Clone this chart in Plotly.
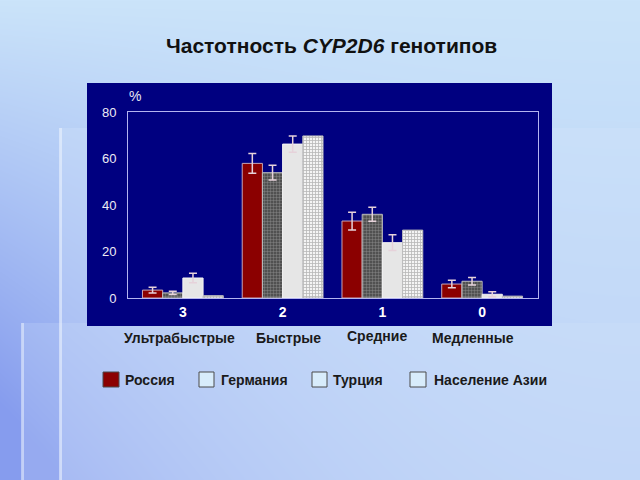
import base64
import struct
import zlib

import numpy as np
import plotly.graph_objects as go

# ---------------- data ----------------
genotypes = ["3", "2", "1", "0"]
phenotypes = ["Ультрабыстрые", "Быстрые", "Средние", "Медленные"]
series_names = ["Россия", "Германия", "Турция", "Население Азии"]

russia = [3.4, 57.9, 33.1, 6.0]
russia_err = [1.2, 4.2, 3.8, 1.6]
germany = [2.2, 53.9, 36.0, 7.2]
germany_err = [0.7, 3.2, 3.0, 1.6]
turkey = [8.6, 66.2, 23.8, 1.6]
turkey_err = [2.0, 3.5, 3.4, 1.1]
asia = [1.0, 69.7, 29.2, 0.8]

y_ticks = [0, 20, 40, 60, 80]

# ---------------- geometry helpers ----------------
W, H = 640, 480
ML, MR, MT, MB = 128, 102, 112, 182
PW, PH = W - ML - MR, H - MT - MB


def px(x):
    return (x - ML) / PW


def py(y):
    return (H - MB - y) / PH


# ---------------- background picture (slide template) ----------------
def background_uri():
    yy, xx = np.mgrid[0:H, 0:W].astype(float)
    yn, xn = yy / H, xx / W
    top = np.array([203, 228, 250], float)
    blue = np.array([134, 156, 238], float)
    w = np.clip(yn * 0.33 + ((1 - xn) ** 2.2) * yn * 0.85, 0, 1)[..., None]
    img = top * (1 - w) + blue * w
    light = np.array([214, 230, 251], float)
    regA = ((xx >= 60) & (yy >= 128))[..., None]
    img = np.where(regA, img * 0.72 + light * 0.28, img)
    regB = ((xx >= 22) & (yy >= 323))[..., None]
    img = np.where(regB, img * 0.8 + light * 0.2, img)
    white = np.array([240, 246, 255], float)
    lineA = ((xx >= 59) & (xx <= 61) & (yy >= 128))[..., None]
    img = np.where(lineA, img * 0.45 + white * 0.55, img)
    lineB = ((xx >= 21) & (xx <= 23) & (yy >= 323))[..., None]
    img = np.where(lineB, img * 0.5 + white * 0.5, img)
    img = np.clip(img, 0, 255).astype(np.int16)
    sub = img.copy()
    sub[:, 1:, :] = img[:, 1:, :] - img[:, :-1, :]
    sub = (sub % 256).astype(np.uint8).reshape(H, -1)
    raw = np.concatenate([np.ones((H, 1), np.uint8), sub], axis=1).tobytes()

    def chunk(t, d):
        return (struct.pack(">I", len(d)) + t + d
                + struct.pack(">I", zlib.crc32(t + d) & 0xFFFFFFFF))

    png = (b"\x89PNG\r\n\x1a\n"
           + chunk(b"IHDR", struct.pack(">IIBBBBB", W, H, 8, 2, 0, 0, 0))
           + chunk(b"IDAT", zlib.compress(raw, 9))
           + chunk(b"IEND", b""))
    return "data:image/png;base64," + base64.b64encode(png).decode()


FONT = "Liberation Sans, Arial, sans-serif"
ERR_COLOR = "#E6D2DA"

fig = go.Figure()

fig.add_trace(go.Bar(
    name=series_names[0], x=genotypes, y=russia,
    marker=dict(color="#8B0000", line=dict(color="#C9A6B4", width=1)),
    error_y=dict(type="data", array=russia_err, color=ERR_COLOR, thickness=1.5, width=4),
))
fig.add_trace(go.Bar(
    name=series_names[1], x=genotypes, y=germany,
    marker=dict(color="#4A4A4A", line=dict(color="#BDBDBD", width=1),
                pattern=dict(shape=".", fgcolor="#B0B0B0", bgcolor="#444444",
                             size=3, solidity=0.5)),
    error_y=dict(type="data", array=germany_err, color=ERR_COLOR, thickness=1.5, width=4),
))
fig.add_trace(go.Bar(
    name=series_names[2], x=genotypes, y=turkey,
    marker=dict(color="#E6E6E6", line=dict(color="#F4F4F4", width=1)),
    error_y=dict(type="data", array=turkey_err, color=ERR_COLOR, thickness=1.5, width=4),
))
fig.add_trace(go.Bar(
    name=series_names[3], x=genotypes, y=asia,
    marker=dict(color="#F2F2F2", line=dict(color="#BBBBBB", width=1),
                pattern=dict(shape="+", fgcolor="#7A7A7A", bgcolor="#F4F4F4",
                             size=3, solidity=0.45)),
))

shapes = [
    # navy panel behind the chart
    dict(type="rect", xref="paper", yref="paper", layer="below",
         x0=px(87), x1=px(552), y0=py(326), y1=py(83),
         fillcolor="#000080", line=dict(width=0)),
]
annotations = [
    dict(text="Частотность <i>CYP2D6</i> генотипов", x=px(331), y=py(45),
         xref="paper", yref="paper", showarrow=False, xanchor="center", yanchor="middle",
         font=dict(family=FONT, size=21, color="#111111", weight="bold")),
    dict(text="%", x=px(135), y=py(96), xref="paper", yref="paper", showarrow=False,
         xanchor="center", yanchor="middle",
         font=dict(family=FONT, size=14, color="#E8E8F4")),
]

cat_pos = [(179, 338), (288, 338), (377, 336), (473, 338)]
for label, (cx, cy) in zip(phenotypes, cat_pos):
    annotations.append(dict(
        text=label, x=px(cx), y=py(cy), xref="paper", yref="paper", showarrow=False,
        xanchor="center", yanchor="middle",
        font=dict(family=FONT, size=14, color="#1A1A1A", weight="bold")))

legend_boxes = [(103, 119, "#8B0000"), (199, 214, "#D8ECFB"), (312, 327, "#D8ECFB"),
                (410, 426, "#D8ECFB")]
legend_text_x = [123, 219, 331, 432]
for name, (bx0, bx1, fc), tx in zip(series_names, legend_boxes, legend_text_x):
    shapes.append(dict(type="rect", xref="paper", yref="paper",
                       x0=px(bx0), x1=px(bx1), y0=py(387), y1=py(372),
                       fillcolor=fc, line=dict(color="#4A4A4A", width=1)))
    annotations.append(dict(
        text=name, x=px(tx), y=py(379.5), xref="paper", yref="paper", showarrow=False,
        xanchor="left", yanchor="middle",
        font=dict(family=FONT, size=14, color="#1A1A1A", weight="bold")))

fig.update_layout(
    width=W, height=H, autosize=False,
    margin=dict(l=ML, r=MR, t=MT, b=MB, pad=0),
    paper_bgcolor="#C6DCF7", plot_bgcolor="#000080",
    barmode="group", bargap=0.19, bargroupgap=0.0,
    showlegend=False,
    shapes=shapes, annotations=annotations,
    images=[dict(source=background_uri(), xref="paper", yref="paper",
                 x=px(0), y=py(0), sizex=W / PW, sizey=H / PH,
                 xanchor="left", yanchor="top", sizing="stretch", layer="below")],
    xaxis=dict(type="category", range=[-0.55, 3.56], showgrid=False, zeroline=False,
               showline=True, mirror=True, linecolor="#B4B4F0", linewidth=1,
               ticks="", ticklabelstandoff=1,
               tickfont=dict(family=FONT, size=14, color="#FFFFFF", weight="bold")),
    yaxis=dict(range=[0, 80], tickvals=y_ticks, showgrid=False, zeroline=False,
               showline=True, mirror=True, linecolor="#B4B4F0", linewidth=1,
               ticks="", ticklabelstandoff=8,
               tickfont=dict(family=FONT, size=13, color="#ECECF4")),
)

fig.write_html("out.html")
